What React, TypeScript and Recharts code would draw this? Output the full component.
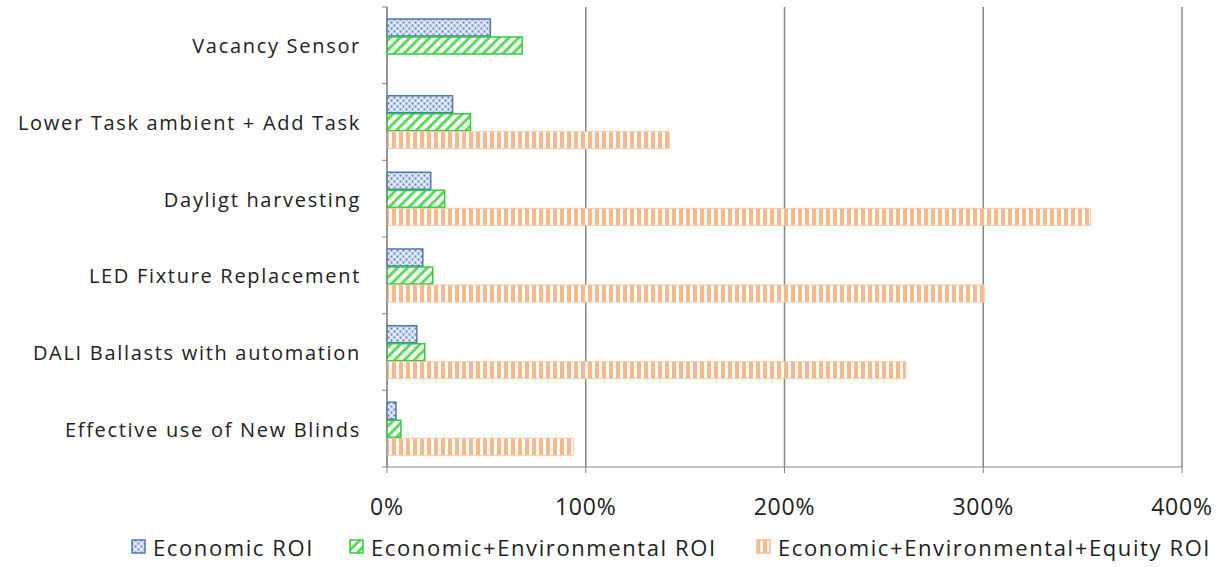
import React from "react";
import { BarChart, Bar, XAxis, YAxis, CartesianGrid, Legend } from "recharts";

const measures = [
  "Vacancy Sensor",
  "Lower Task ambient + Add Task",
  "Dayligt harvesting",
  "LED Fixture Replacement",
  "DALI Ballasts with automation",
  "Effective use of New Blinds",
];
const economicRoi = [52, 33, 22, 18, 15, 4.5];
const environmentalRoi = [68, 42, 29, 23, 19, 7];
const equityRoi = [0, 142, 354, 300.5, 261, 94];
const xTicks = [0, 100, 200, 300, 400];

const seriesNames = ["Economic ROI", "Economic+Environmental ROI", "Economic+Environmental+Equity ROI"];

const chartData = measures.map((name, i) => ({
  name,
  economic: economicRoi[i],
  environmental: environmentalRoi[i],
  equity: equityRoi[i],
}));

const FONT = "'Open Sans', sans-serif";
const AXIS = "#878787";
const BAND = (567 - 7 - 100) / measures.length;

// category label plus the little Excel style boundary ticks
function CategoryTick(props: any) {
  const { x, y, payload, index } = props;
  const axisX = x + 26;
  return (
    <g>
      <text x={x} y={y} dy={8} textAnchor="end" fill="#222" fontSize={20} letterSpacing={1.7} fontFamily={FONT}>
        {payload.value}
      </text>
      <line x1={axisX - 5} x2={axisX} y1={y - BAND / 2} y2={y - BAND / 2} stroke={AXIS} />
      {index === measures.length - 1 && (
        <line x1={axisX - 5} x2={axisX} y1={y + BAND / 2} y2={y + BAND / 2} stroke={AXIS} />
      )}
    </g>
  );
}

const swatches = ["url(#dotsBlue)", "url(#hatchGreen)", "url(#stripesOrange)"];
const swatchBorders = ["#4f76b8", "#2ecc40", "#f6b98c"];
const legendLeft = [131, 349, 756];

function LegendRow() {
  return (
    <div style={{ position: "relative", height: 40, fontFamily: FONT, fontSize: 22, letterSpacing: 1.6, color: "#222" }}>
      {seriesNames.map((n, i) => (
        <div key={n} style={{ position: "absolute", left: legendLeft[i], top: 0, height: 40, display: "flex", alignItems: "center", whiteSpace: "nowrap" }}>
          <svg width={16} height={16} style={{ marginRight: 6 }}>
            <rect x={1} y={1} width={13} height={13} fill={swatches[i]} stroke={swatchBorders[i]} strokeWidth={1.5} />
          </svg>
          <span>{n}</span>
        </div>
      ))}
    </div>
  );
}

export default function App() {
  return (
    <div style={{ position: "absolute", left: 0, top: 0, width: 1223, height: 567, background: "#fff" }}>
      <BarChart
        width={1223}
        height={567}
        data={chartData}
        layout="vertical"
        margin={{ top: 7, right: 41, bottom: 0, left: 0 }}
        barSize={17}
        barGap={1}
      >
        <defs>
          <pattern id="dotsBlue" width="6" height="6" patternUnits="userSpaceOnUse">
            <rect width="6" height="6" fill="#cbdaef" />
            <circle cx="1.5" cy="1.5" r="1" fill="#ffffff" />
            <circle cx="4.5" cy="4.5" r="1" fill="#ffffff" />
            <circle cx="4.5" cy="1.5" r="0.9" fill="#5f82c0" />
            <circle cx="1.5" cy="4.5" r="0.9" fill="#5f82c0" />
          </pattern>
          <pattern id="hatchGreen" width="7" height="7" patternUnits="userSpaceOnUse" patternTransform="rotate(45)">
            <rect width="7" height="7" fill="#ffffff" />
            <rect width="3" height="7" fill="#5bdc5b" />
          </pattern>
          <pattern id="stripesOrange" width="7" height="7" patternUnits="userSpaceOnUse">
            <rect width="7" height="7" fill="#ffffff" />
            <rect width="4" height="7" fill="#f8b889" />
          </pattern>
        </defs>
        <CartesianGrid horizontal={false} stroke={AXIS} strokeWidth={1.5} />
        <XAxis
          type="number"
          domain={[0, 400]}
          ticks={xTicks}
          tickFormatter={(v: number) => `${v}%`}
          stroke={AXIS}
          tickSize={6}
          tickMargin={26}
          height={60}
          tick={{ fill: "#222", fontSize: 23, letterSpacing: 0.8, fontFamily: FONT }}
        />
        <YAxis
          type="category"
          dataKey="name"
          width={387}
          stroke={AXIS}
          tickLine={false}
          tickSize={0}
          tickMargin={26}
          interval={0}
          tick={<CategoryTick />}
        />
        <Legend verticalAlign="bottom" height={40} content={() => <LegendRow />} />
        <Bar dataKey="economic" name={seriesNames[0]} fill="url(#dotsBlue)" stroke="#4f76b8" strokeWidth={1.5} isAnimationActive={false} />
        <Bar dataKey="environmental" name={seriesNames[1]} fill="url(#hatchGreen)" stroke="#2ecc40" strokeWidth={1.5} isAnimationActive={false} />
        <Bar dataKey="equity" name={seriesNames[2]} fill="url(#stripesOrange)" stroke="#f9c8a3" strokeWidth={1} isAnimationActive={false} />
      </BarChart>
    </div>
  );
}
